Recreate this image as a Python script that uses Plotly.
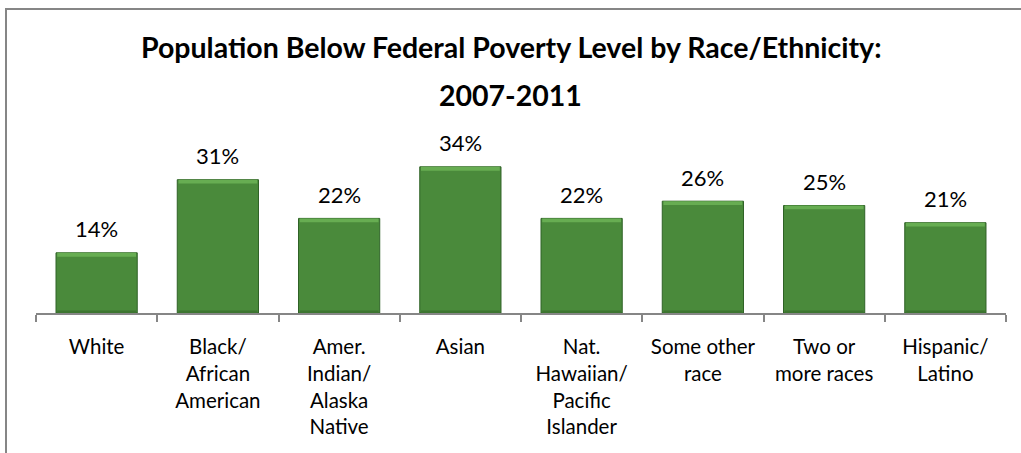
import plotly.graph_objects as go

# Share of population below the federal poverty level, 2007-2011
categories = [
    "White",
    "Black/<br>African<br>American",
    "Amer.<br>Indian/<br>Alaska<br>Native",
    "Asian",
    "Nat.<br>Hawaiian/<br>Pacific<br>Islander",
    "Some other<br>race",
    "Two or<br>more races",
    "Hispanic/<br>Latino",
]
poverty_pct = [14, 31, 22, 34, 22, 26, 25, 21]
value_labels = [f"{v}%" for v in poverty_pct]
title_lines = ["Population Below Federal Poverty Level by Race/Ethnicity:", "2007-2011"]

FONT = "Lato"
BAR_W = 0.67
HI = 0.9   # thickness of the light bevel strip at the top of each bar (in %)
LO = 0.6   # thickness of the dark strip at the bottom

fig = go.Figure()

# main green body
fig.add_trace(go.Bar(
    x=categories, y=poverty_pct, width=BAR_W,
    marker=dict(color="#4a8a3b", line=dict(color="#2f6226", width=1)),
    hoverinfo="skip",
))
# light bevel along the top edge
fig.add_trace(go.Bar(
    x=categories, y=[HI] * len(poverty_pct),
    base=[v - HI for v in poverty_pct], width=BAR_W - 0.02,
    marker=dict(color="#67ad52", line=dict(width=0)), hoverinfo="skip",
))
# darker shade along the bottom edge
fig.add_trace(go.Bar(
    x=categories, y=[LO] * len(poverty_pct),
    base=[0] * len(poverty_pct), width=BAR_W - 0.02,
    marker=dict(color="#3d7530", line=dict(width=0)), hoverinfo="skip",
))

# plot-area geometry in pixels
W, H = 1021, 453
L, R, B, T = 36, 15, 140, 141
pw, ph = W - L - R, H - T - B


def px_x(x):
    return (x - L) / pw


def px_y(y):
    return (H - B - y) / ph


annotations = [
    # value labels above each bar
    dict(x=c, y=v, xref="x", yref="y", text=t, showarrow=False,
         yanchor="middle", yshift=24,
         font=dict(family=FONT, size=22, color="#000000"))
    for c, v, t in zip(categories, poverty_pct, value_labels)
]
# two-line chart title
for line, ypx in zip(title_lines, [47, 95]):
    annotations.append(dict(
        x=px_x(510.5), y=px_y(ypx), xref="paper", yref="paper",
        text=f"<b>{line}</b>", showarrow=False,
        xanchor="center", yanchor="middle",
        font=dict(family=FONT, size=28.5, color="#000000"),
    ))

fig.update_layout(
    width=W, height=H,
    margin=dict(l=L, r=R, t=T, b=B, autoexpand=False),
    paper_bgcolor="white", plot_bgcolor="white",
    showlegend=False, barmode="overlay",
    annotations=annotations,
    xaxis=dict(
        showline=True, linecolor="#868686", linewidth=1.5,
        ticks="outside", ticklen=7, tickcolor="#868686", tickwidth=1.5,
        tickson="boundaries", ticklabelstandoff=15, tickangle=0,
        automargin=False,
        tickfont=dict(family=FONT, size=20.5, color="#000000"),
        showgrid=False, fixedrange=True,
    ),
    yaxis=dict(range=[0, 40], visible=False, fixedrange=True, automargin=False),
    shapes=[
        # chart frame (left and top edges visible)
        dict(type="rect", xref="paper", yref="paper",
             x0=px_x(6), x1=px_x(1100), y0=px_y(600), y1=px_y(9),
             line=dict(color="#868686", width=2), layer="below"),
    ],
)

fig.write_html("out.html")
